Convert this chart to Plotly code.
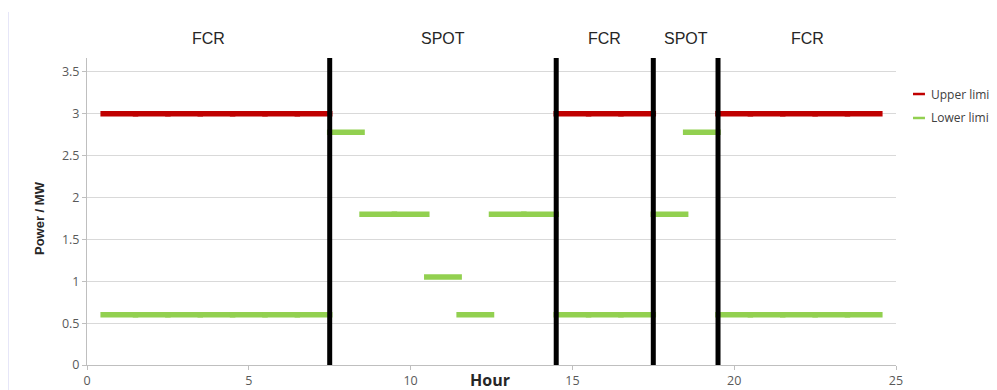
import plotly.graph_objects as go

# ---- data ----
hours = [1, 2, 3, 4, 5, 6, 7, 8, 9, 10, 11, 12, 13, 14, 15, 16, 17, 18, 19, 20, 21, 22, 23, 24]
upper_limit = [3, 3, 3, 3, 3, 3, 3, None, None, None, None, None, None, None,
               3, 3, 3, None, None, 3, 3, 3, 3, 3]
lower_limit = [0.6, 0.6, 0.6, 0.6, 0.6, 0.6, 0.6, 2.78, 1.8, 1.8, 1.05, 0.6, 1.8, 1.8,
               0.6, 0.6, 0.6, 1.8, 2.78, 0.6, 0.6, 0.6, 0.6, 0.6]
boundaries = [7.5, 14.5, 17.5, 19.5]
market_labels = ["FCR", "SPOT", "FCR", "SPOT", "FCR"]
x_ticks = [0, 5, 10, 15, 20, 25]
y_ticks = [0, 0.5, 1, 1.5, 2, 2.5, 3, 3.5]

X_MIN, X_MAX = 0, 25
Y_MIN, Y_MAX = 0, 3.667
CAP = 0.085  # square-cap look of the original line ends


def hourly_segments(values):
    xs, ys = [], []
    for h, v in zip(hours, values):
        if v is None:
            continue
        xs += [h - 0.5 - CAP, h + 0.5 + CAP, None]
        ys += [v, v, None]
    return xs, ys


fig = go.Figure()
ux, uy = hourly_segments(upper_limit)
lx, ly = hourly_segments(lower_limit)
fig.add_trace(go.Scatter(x=ux, y=uy, mode="lines", name="Upper limit",
                         line=dict(color="#C00000", width=5.5), showlegend=False))
fig.add_trace(go.Scatter(x=lx, y=ly, mode="lines", name="Lower limit",
                         line=dict(color="#92D050", width=5.5), showlegend=False))

shapes = []
for b in boundaries:
    shapes.append(dict(type="line", xref="x", yref="paper", x0=b, x1=b, y0=0, y1=1,
                       line=dict(color="black", width=5), layer="above"))
# left border line of the original chart frame
shapes.append(dict(type="line", xref="paper", yref="paper", x0=-0.0977, x1=-0.0977,
                   y0=1.15, y1=-0.09, line=dict(color="#c8c8f0", width=1)))

annotations = []
edges = [X_MIN] + boundaries + [X_MAX]
for i, lab in enumerate(market_labels):
    annotations.append(dict(x=(edges[i] + edges[i + 1]) / 2, y=1.062, xref="x", yref="paper",
                            text=lab, showarrow=False, xanchor="center", yanchor="middle",
                            font=dict(family="Liberation Sans", size=16, color="#262626")))

# manual legend
legend_items = [("Upper limit", "#C00000", 0.8827), ("Lower limit", "#92D050", 0.8046)]
for name, col, yy in legend_items:
    shapes.append(dict(type="line", xref="paper", yref="paper", x0=1.021, x1=1.0358,
                       y0=yy, y1=yy, line=dict(color=col, width=2.5)))
    annotations.append(dict(x=1.0405, y=yy, xref="paper", yref="paper", text=name,
                            showarrow=False, xanchor="left", yanchor="middle",
                            font=dict(family="Open Sans", size=12, color="#404040")))

# axis titles
annotations.append(dict(x=(490 - 87) / 809 * X_MAX, y=-0.048, xref="x", yref="paper",
                        text="<b>Hour</b>", showarrow=False, xanchor="center", yanchor="middle",
                        font=dict(family="Open Sans", size=16, color="#262626")))
annotations.append(dict(x=-0.058, y=0.479, xref="paper", yref="paper", text="<b>Power / MW</b>",
                        showarrow=False, textangle=-90, xanchor="center", yanchor="middle",
                        font=dict(family="Liberation Sans", size=13, color="#262626")))

fig.update_layout(
    width=997, height=390, autosize=False,
    margin=dict(l=79, r=109, t=50, b=33),
    plot_bgcolor="white", paper_bgcolor="white",
    shapes=shapes, annotations=annotations,
    showlegend=False,
)
fig.update_xaxes(range=[X_MIN, X_MAX], tickvals=x_ticks, showgrid=False, zeroline=False,
                 showline=True, linecolor="#bfbfbf", linewidth=1, automargin=False,
                 ticks="outside", ticklen=4, tickcolor="#bfbfbf",
                 tickfont=dict(family="Open Sans", size=12.5, color="#595959"))
fig.update_yaxes(range=[Y_MIN, Y_MAX], tickvals=y_ticks, showgrid=True, gridcolor="#d9d9d9",
                 gridwidth=1, zeroline=False, showline=True, linecolor="#bfbfbf", linewidth=1,
                 automargin=False,
                 ticks="outside", ticklen=4, tickcolor="#bfbfbf",
                 tickfont=dict(family="Open Sans", size=12.5, color="#595959"))

fig.write_html("out.html")
